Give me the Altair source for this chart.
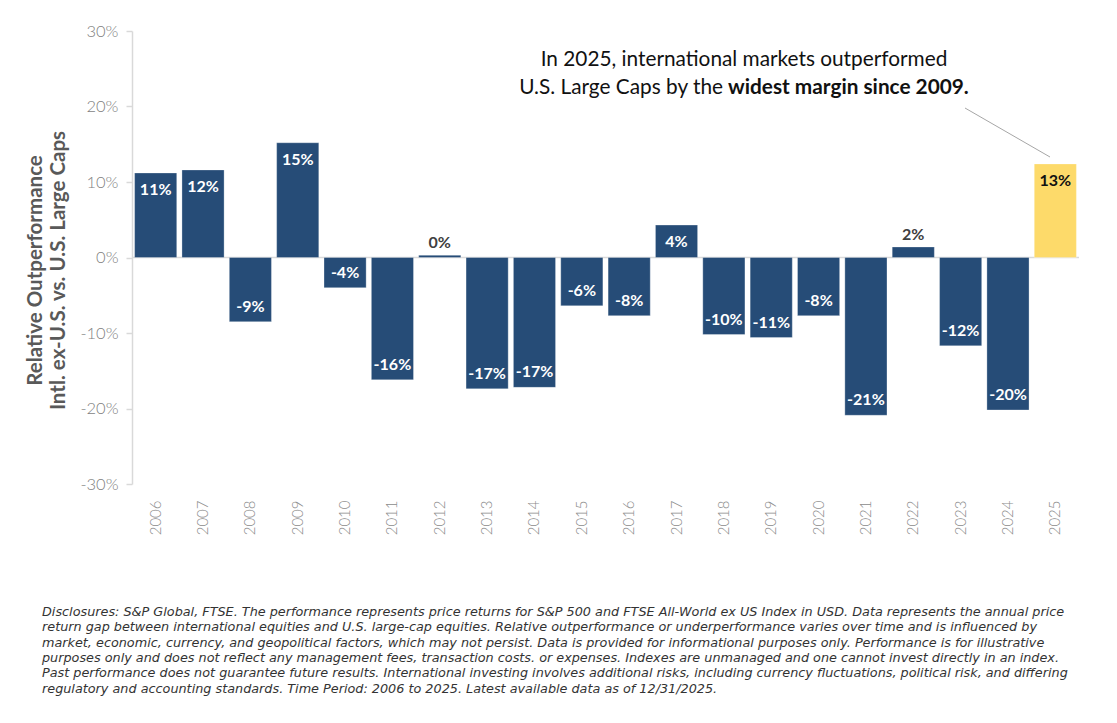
import altair as alt
import pandas as pd

years = ["2006", "2007", "2008", "2009", "2010", "2011", "2012", "2013", "2014", "2015",
         "2016", "2017", "2018", "2019", "2020", "2021", "2022", "2023", "2024", "2025"]
values = [11.2, 11.6, -8.5, 15.2, -4.0, -16.2, 0.3, -17.4, -17.2, -6.4,
          -7.7, 4.3, -10.2, -10.6, -7.7, -20.9, 1.4, -11.7, -20.2, 12.4]
labels = ["11%", "12%", "-9%", "15%", "-4%", "-16%", "0%", "-17%", "-17%", "-6%",
          "-8%", "4%", "-10%", "-11%", "-8%", "-21%", "2%", "-12%", "-20%", "13%"]
highlight_year = "2025"

y_ticks = [-30, -20, -10, 0, 10, 20, 30]

annot_line1 = "In 2025, international markets outperformed"
annot_line2_regular = "U.S. Large Caps by the"
annot_line2_bold = "widest margin since 2009."

disclosure = [
    "Disclosures: S&P Global, FTSE. The performance represents price returns for S&P 500 and FTSE All-World ex US Index in USD. Data represents the annual price",
    "return gap between international equities and U.S. large-cap equities. Relative outperformance or underperformance varies over time and is influenced by",
    "market, economic, currency, and geopolitical factors, which may not persist. Data is provided for informational purposes only. Performance is for illustrative",
    "purposes only and does not reflect any management fees, transaction costs. or expenses. Indexes are unmanaged and one cannot invest directly in an index.",
    "Past performance does not guarantee future results. International investing involves additional risks, including currency fluctuations, political risk, and differing",
    "regulatory and accounting standards. Time Period: 2006 to 2025. Latest available data as of 12/31/2025.",
]

NAVY = "#264C77"
GOLD = "#FDDA6A"
FONT = "Lato"

df = pd.DataFrame({"year": years, "value": values, "label": labels})
df["hl"] = df["year"] == highlight_year
df["place"] = ["out" if abs(v) < 3 else ("pos" if v > 0 else "neg") for v in values]

W, H = 947, 453

x_enc = alt.X("year:N", sort=years,
              scale=alt.Scale(paddingInner=0.11, paddingOuter=0.055),
              axis=alt.Axis(title=None, labelAngle=-90, domain=False, ticks=False,
                            labelPadding=16, labelFont=FONT, labelFontSize=15,
                            labelColor="#8C8C8C", labelFontWeight=300))
y_scale = alt.Scale(domain=[-30, 30], nice=False)
y_enc = alt.Y("value:Q", scale=y_scale,
              axis=alt.Axis(values=y_ticks, labelExpr="datum.value + '%'",
                            title=["Relative Outperformance", "Intl. ex-U.S. vs. U.S. Large Caps"],
                            titleFont=FONT, titleFontSize=20.5, titleFontWeight="bold",
                            titleColor="#595959", titlePadding=11, titleLineHeight=23,
                            titleY=239,
                            labelFont=FONT, labelFontSize=16.5, labelColor="#7F7F7F",
                            labelFontWeight=300, labelPadding=8,
                            domainColor="#D9D9D9", domainWidth=1.5,
                            tickColor="#D9D9D9", tickSize=6, tickWidth=1.5,
                            grid=False))

base = alt.Chart(df)

zero = alt.Chart(pd.DataFrame({"z": [0]})).mark_rule(color="#D9D9D9", strokeWidth=1.5).encode(
    y=alt.Y("z:Q", scale=y_scale), x=alt.value(0), x2=alt.value(W))

bars = base.mark_bar(stroke="#FFFFFF", strokeWidth=0.6, strokeOpacity=0.5).encode(
    x=x_enc, y=y_enc, y2=alt.datum(0),
    color=alt.condition("datum.hl", alt.value(GOLD), alt.value(NAVY)))

txt_common = dict(font=FONT, fontSize=16, fontWeight="bold")
lab_pos = base.transform_filter("datum.place == 'pos'").mark_text(
    baseline="middle", dy=17, **txt_common).encode(
    x=alt.X("year:N", sort=years), y=alt.Y("value:Q", scale=y_scale), text="label:N",
    color=alt.condition("datum.hl", alt.value("#111111"), alt.value("#FFFFFF")))
lab_neg = base.transform_filter("datum.place == 'neg'").mark_text(
    baseline="middle", dy=-15, color="#FFFFFF", **txt_common).encode(
    x=alt.X("year:N", sort=years), y=alt.Y("value:Q", scale=y_scale), text="label:N")
lab_out = base.transform_filter("datum.place == 'out'").mark_text(
    baseline="middle", dy=-12, color="#404040", **txt_common).encode(
    x=alt.X("year:N", sort=years), y=alt.Y("value:Q", scale=y_scale), text="label:N")

one = pd.DataFrame({"a": [0]})
ann1 = alt.Chart(one).mark_text(font=FONT, fontSize=20.8, color="#111111", align="center",
                                baseline="middle").encode(
    x=alt.value(612), y=alt.value(29), text=alt.value(annot_line1))
ann2a = alt.Chart(one).mark_text(font=FONT, fontSize=20.8, color="#111111", align="right",
                                 baseline="middle").encode(
    x=alt.value(591), y=alt.value(57), text=alt.value(annot_line2_regular))
ann2b = alt.Chart(one).mark_text(font=FONT, fontSize=20.8, fontWeight="bold", color="#111111",
                                 align="left", baseline="middle").encode(
    x=alt.value(596), y=alt.value(57), text=alt.value(annot_line2_bold))
conn = alt.Chart(one).mark_rule(color="#A6A6A6", strokeWidth=1).encode(
    x=alt.value(833), y=alt.value(77), x2=alt.value(918), y2=alt.value(126))

disc = alt.Chart(one).mark_text(font="DejaVu Sans", fontStyle="italic", fontSize=12.8,
                                color="#333333", align="left", baseline="top",
                                lineHeight=15.3).encode(
    x=alt.value(-90), y=alt.value(575), text=alt.value(disclosure))

chart = alt.layer(zero, bars, lab_pos, lab_neg, lab_out, ann1, ann2a, ann2b, conn, disc).properties(
    width=W, height=H,
    autosize=alt.AutoSizeParams(type="none"),
    padding={"left": 124, "top": 23, "right": 30, "bottom": 231},
    background="#FFFFFF",
).configure_view(stroke=None)

chart.save("out.html", embed_options={"renderer": "svg", "actions": False})
